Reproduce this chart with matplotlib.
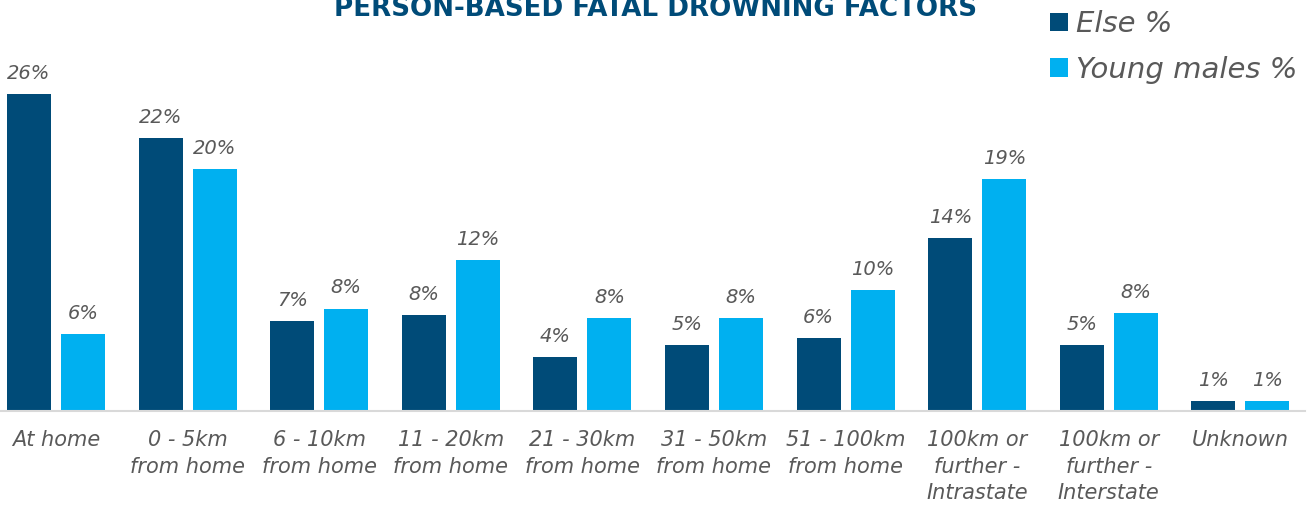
import numpy as np
import matplotlib
matplotlib.use("Agg")
import matplotlib.pyplot as plt

# data
categories = ["At home", "0 - 5km\nfrom home", "6 - 10km\nfrom home", "11 - 20km\nfrom home",
              "21 - 30km\nfrom home", "31 - 50km\nfrom home", "51 - 100km\nfrom home",
              "100km or\nfurther -\nIntrastate", "100km or\nfurther -\nInterstate", "Unknown"]
else_pct = [26.0, 22.4, 7.4, 7.9, 4.4, 5.4, 6.0, 14.2, 5.4, 0.8]
young_pct = [6.3, 19.8, 8.4, 12.4, 7.6, 7.6, 9.9, 19.0, 8.0, 0.8]
series_names = ["Else %", "Young males %"]

navy = "#004b78"
light = "#00b0f0"
grey = "#595959"

plt.rcParams['font.family'] = ['DejaVu Sans']

fig = plt.figure(figsize=(13.12, 5.09), dpi=100)
W, H = 1312, 509
ax = fig.add_axes([0, (H - 411) / H, 1305 / W, 391 / H])

x = np.arange(len(categories))
bw = 0.334
off = 0.205
b1 = ax.bar(x - off, else_pct, bw, color=navy, label=series_names[0], zorder=2)
b2 = ax.bar(x + off, young_pct, bw, color=light, label=series_names[1], zorder=2)

for bars, vals in ((b1, else_pct), (b2, young_pct)):
    for rect, v in zip(bars, vals):
        ax.annotate(f"{round(v)}%", (rect.get_x() + rect.get_width() / 2, v),
                    xytext=(0, 8), textcoords="offset points", ha="center", va="bottom",
                    fontsize=14, style="italic", color=grey)

ax.set_xlim(-56 / 131.6, -56 / 131.6 + 1305 / 131.6)
ax.set_ylim(0, 391 / 12.2)
ax.set_xticks(x)
ax.set_xticklabels(categories, fontsize=15, style="italic", color=grey, linespacing=1.4)
ax.tick_params(axis="x", length=0, pad=14)
ax.set_yticks([])
for s in ("top", "right", "left"):
    ax.spines[s].set_visible(False)
ax.spines["bottom"].set_color("#d9d9d9")
ax.spines["bottom"].set_linewidth(1.5)

fig.text(656 / W, 1 - 16 / H, "PERSON-BASED FATAL DROWNING FACTORS", ha="center",
         va="baseline", fontsize=18.8, fontweight="bold", color=navy)

fig.legend(handles=[b1, b2], loc="upper left", bbox_to_anchor=(1024 / W, 1 + 16 / H),
           frameon=False, prop={"size": 21, "style": "italic"}, labelcolor=grey,
           handlelength=0.6, handleheight=0.6, handletextpad=0.3, labelspacing=0.6)

fig.savefig("out.png", dpi=100)
